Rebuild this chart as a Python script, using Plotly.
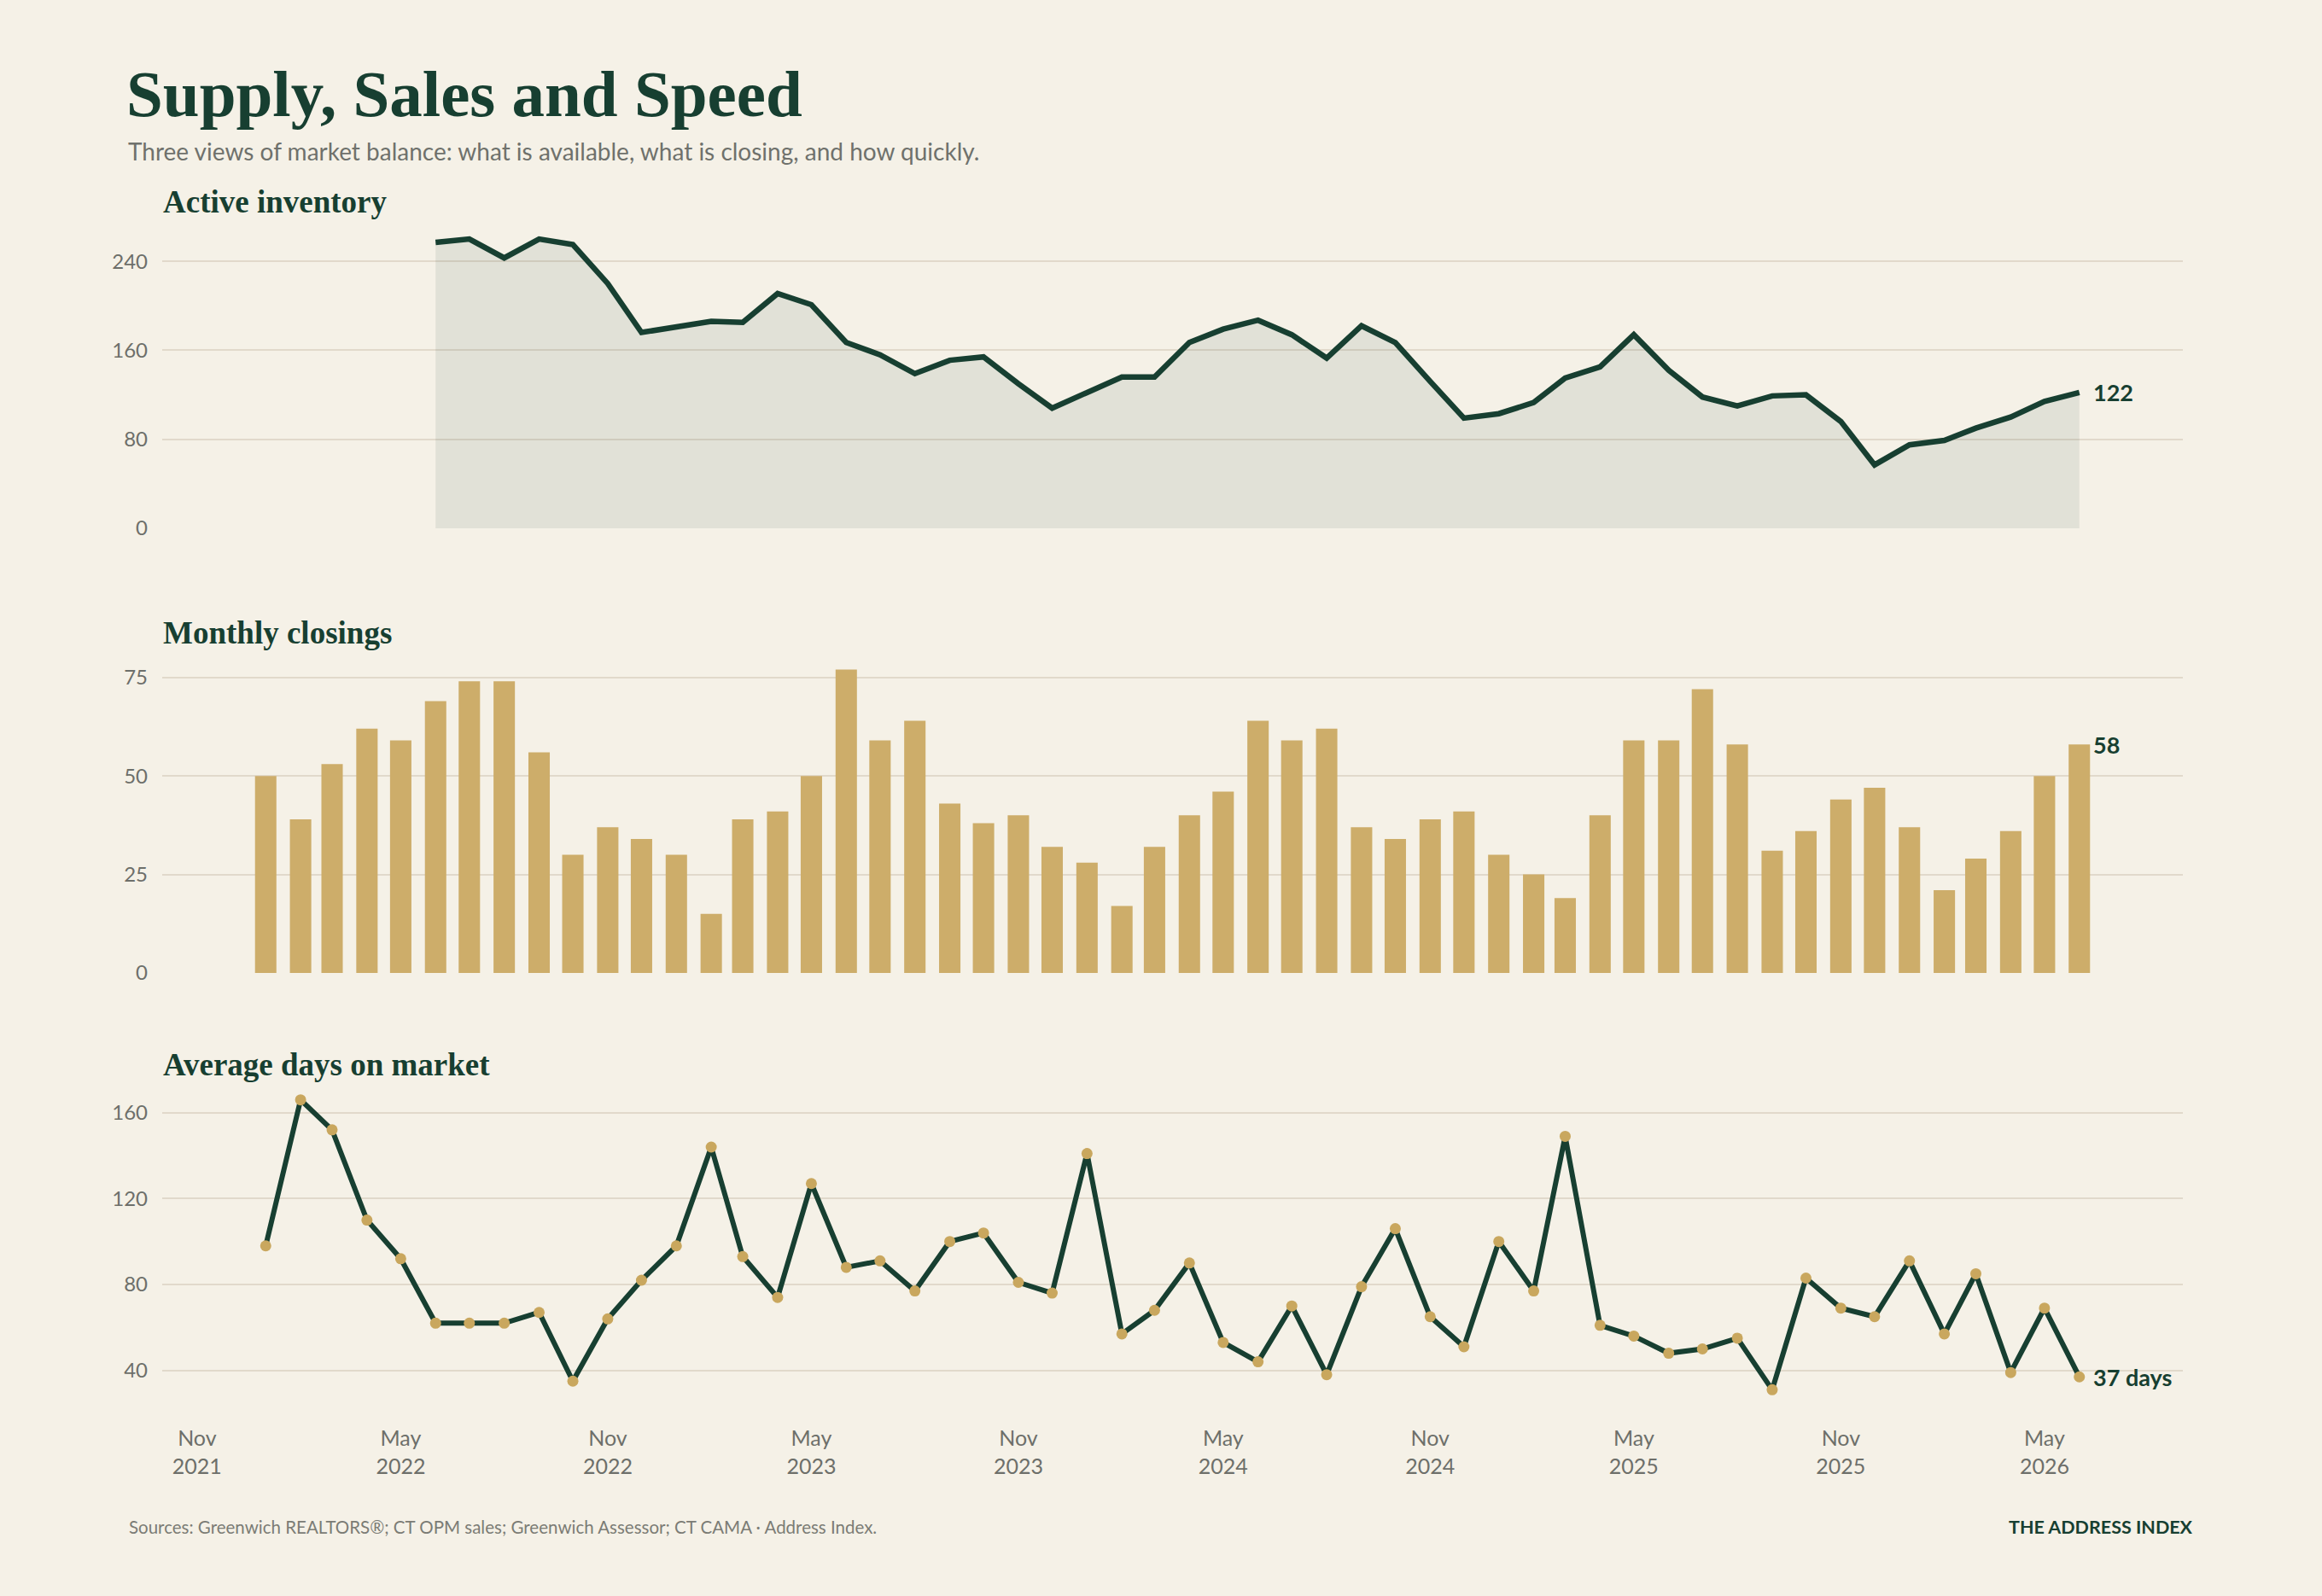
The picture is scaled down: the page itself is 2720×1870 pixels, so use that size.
import plotly.graph_objects as go
import pandas as pd

# ---------------- data ----------------
closing_months = pd.date_range("2022-01-01", "2026-06-01", freq="MS")
inventory_months = pd.date_range("2022-06-01", "2026-06-01", freq="MS")

inventory = [257, 260, 243, 260, 255, 220, 176, 181, 186, 185,
             211, 201, 167, 156, 139, 151, 154, 130, 108, 122,
             136, 136, 167, 179, 187, 174, 153, 182, 167, 132,
             99, 103, 113, 135, 145, 174, 142, 118, 110, 119,
             120, 96, 57, 75, 79, 90, 100, 114, 122]

closings = [50, 39, 53, 62, 59, 69, 74, 74, 56, 30,
            37, 34, 30, 15, 39, 41, 50, 77, 59, 64,
            43, 38, 40, 32, 28, 17, 32, 40, 46, 64,
            59, 62, 37, 34, 39, 41, 30, 25, 19, 40,
            59, 59, 72, 58, 31, 36, 44, 47, 37, 21,
            29, 36, 50, 58]

days_on_market = [98, 166, 152, 110, 92, 62, 62, 62, 67, 35,
                  64, 82, 98, 144, 93, 74, 127, 88, 91, 77,
                  100, 104, 81, 76, 141, 57, 68, 90, 53, 44,
                  70, 38, 79, 106, 65, 51, 100, 77, 149, 61,
                  56, 48, 50, 55, 31, 83, 69, 65, 91, 57,
                  85, 39, 69, 37]

x_tick_dates = ["2021-11-01", "2022-05-01", "2022-11-01", "2023-05-01", "2023-11-01",
                "2024-05-01", "2024-11-01", "2025-05-01", "2025-11-01", "2026-05-01"]
x_tick_labels = ["Nov<br>2021", "May<br>2022", "Nov<br>2022", "May<br>2023", "Nov<br>2023",
                 "May<br>2024", "Nov<br>2024", "May<br>2025", "Nov<br>2025", "May<br>2026"]

inv_ticks = [0, 80, 160, 240]
clo_ticks = [0, 25, 50, 75]
dom_ticks = [40, 80, 120, 160]

title_text = "Supply, Sales and Speed"
subtitle_text = "Three views of market balance: what is available, what is closing, and how quickly."
panel_titles = ["Active inventory", "Monthly closings", "Average days on market"]
source_text = "Sources: Greenwich REALTORS®; CT OPM sales; Greenwich Assessor; CT CAMA · Address Index."
brand_text = "THE ADDRESS INDEX"

# ---------------- style ----------------
W, H = 2720, 1870
BG = "#f5f1e7"
DARK = "#173f31"
TAN = "#cdad6a"
DOT = "#c9a75e"
GRID = "#e1d9cb"
GREY = "#6d6f6a"
SANS = "Lato, 'Open Sans', sans-serif"
SERIF = "'Liberation Serif', 'DejaVu Serif', serif"


def px_x(p):
    return p / W


def px_y(p):
    return 1 - p / H


x_dom = [px_x(190), px_x(2557)]
x_range = ["2021-10-01", "2026-09-01"]

fig = go.Figure()

fig.add_trace(go.Scatter(
    x=inventory_months, y=inventory, mode="lines",
    line=dict(color=DARK, width=6.5),
    fill="tozeroy", fillcolor="rgba(23,63,49,0.086)",
    xaxis="x", yaxis="y", showlegend=False, hoverinfo="skip"))

fig.add_trace(go.Bar(
    x=closing_months, y=closings, marker=dict(color=TAN, line=dict(width=0)),
    width=19 * 86400000,
    xaxis="x2", yaxis="y2", showlegend=False, hoverinfo="skip"))

fig.add_trace(go.Scatter(
    x=closing_months, y=days_on_market, mode="lines+markers",
    line=dict(color=DARK, width=6),
    marker=dict(color=DOT, size=13, line=dict(width=0)),
    xaxis="x3", yaxis="y3", showlegend=False, hoverinfo="skip"))

xcommon = dict(domain=x_dom, range=x_range, type="date", showgrid=False,
               zeroline=False, showline=False, ticks="", automargin=False)
ycommon = dict(showgrid=True, gridcolor=GRID, gridwidth=2, zeroline=False,
               showline=False, ticks="", automargin=False,
               tickfont=dict(family=SANS, size=24, color=GREY),
               ticklabelstandoff=16)

fig.update_layout(
    width=W, height=H,
    paper_bgcolor=BG, plot_bgcolor=BG,
    margin=dict(l=0, r=0, t=0, b=0, pad=0),
    showlegend=False,
    xaxis=dict(**xcommon, anchor="y", showticklabels=False),
    xaxis2=dict(**xcommon, anchor="y2", matches="x", showticklabels=False),
    xaxis3=dict(**xcommon, anchor="y3", matches="x", showticklabels=True,
                tickvals=x_tick_dates, ticktext=x_tick_labels,
                tickfont=dict(family=SANS, size=25, color=GREY),
                ticklabelstandoff=12),
    yaxis=dict(**ycommon, anchor="x", domain=[px_y(619), px_y(267)],
               range=[0, 270], tickvals=inv_ticks),
    yaxis2=dict(**ycommon, anchor="x2", domain=[px_y(1140), px_y(766)],
                range=[0, 81], tickvals=clo_ticks),
    yaxis3=dict(**ycommon, anchor="x3", domain=[px_y(1656), px_y(1266)],
                range=[20, 175], tickvals=dom_ticks),
    bargap=0.35,
)

ann = []
ann.append(dict(text=f"<b>{title_text}</b>", x=px_x(146), y=px_y(110), xref="paper", yref="paper",
                xanchor="left", yanchor="middle", showarrow=False,
                font=dict(family=SERIF, size=77, color=DARK)))
ann.append(dict(text=subtitle_text, x=px_x(148), y=px_y(177), xref="paper", yref="paper",
                xanchor="left", yanchor="middle", showarrow=False,
                font=dict(family=SANS, size=28, color="#6f716c")))
for t, yy in zip(panel_titles, [236, 742, 1247]):
    ann.append(dict(text=f"<b>{t}</b>", x=px_x(189), y=px_y(yy), xref="paper", yref="paper",
                    xanchor="left", yanchor="middle", showarrow=False,
                    font=dict(family=SERIF, size=37, color=DARK)))

label_font = dict(family=SANS, size=27, color=DARK)
ann.append(dict(text=f"<b>{inventory[-1]}</b>", x=inventory_months[-1], y=inventory[-1],
                xref="x", yref="y", xanchor="left", yanchor="middle", xshift=14,
                showarrow=False, font=label_font))
ann.append(dict(text=f"<b>{closings[-1]}</b>", x=closing_months[-1], y=closings[-1],
                xref="x2", yref="y2", xanchor="left", yanchor="middle", xshift=14,
                showarrow=False, font=label_font))
ann.append(dict(text=f"<b>{days_on_market[-1]} days</b>", x=closing_months[-1], y=days_on_market[-1],
                xref="x3", yref="y3", xanchor="left", yanchor="middle", xshift=14,
                showarrow=False, font=label_font))

ann.append(dict(text=source_text, x=px_x(149), y=px_y(1789), xref="paper", yref="paper",
                xanchor="left", yanchor="middle", showarrow=False,
                font=dict(family=SANS, size=20.5, color="#7b7c75")))
ann.append(dict(text=f"<b>{brand_text}</b>", x=px_x(2571), y=px_y(1789), xref="paper", yref="paper",
                xanchor="right", yanchor="middle", showarrow=False,
                font=dict(family=SANS, size=21.5, color=DARK)))

fig.update_layout(annotations=ann)

fig.write_html("out.html")
